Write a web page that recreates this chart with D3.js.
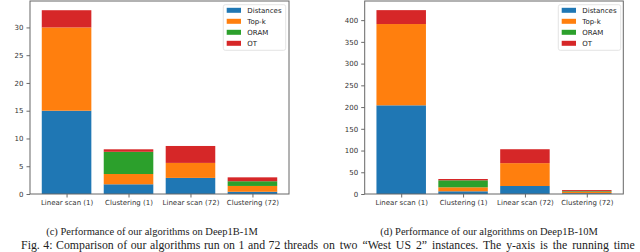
<!DOCTYPE html>
<html><head><meta charset="utf-8">
<script src="https://cdn.jsdelivr.net/npm/d3@7"></script>
<style>
html,body{margin:0;padding:0;background:#fff;overflow:hidden;}
svg{display:block;}
</style></head>
<body>
<svg id="chart" width="640" height="252"></svg>
<script>
const categories = ["Linear scan (1)", "Clustering (1)", "Linear scan (72)", "Clustering (72)"];
const seriesNames = ["Distances", "Top-k", "ORAM", "OT"];
const colors = ["#1f77b4", "#ff7f0e", "#2ca02c", "#d62728"];

// Deep1B-1M
const m1Distances = [15.0, 1.75, 2.9, 0.4];
const m1TopK      = [15.0, 1.85, 2.7, 1.05];
const m1ORAM      = [0.0, 4.0, 0.0, 0.85];
const m1OT        = [3.1, 0.45, 3.05, 0.7];
const m1Ticks = [0, 5, 10, 15, 20, 25, 30];

// Deep1B-10M
const m10Distances = [204, 6.2, 18.4, 2];
const m10TopK      = [187, 9.2, 52.6, 3];
const m10ORAM      = [0, 16.1, 0, 1.5];
const m10OT        = [32, 3.0, 32, 2.5];
const m10Ticks = [0, 50, 100, 150, 200, 250, 300, 350, 400];

const captions = ["(c) Performance of our algorithms on Deep1B-1M", "(d) Performance of our algorithms on Deep1B-10M"];
const bodyLeft = "Fig. 4: Comparison of our algorithms run on 1 and 72 threads";
const bodyRight = "on two \u201cWest US 2\u201d instances. The y-axis is the running time";

const svg = d3.select("#chart");

function drawPanel(cfg) {
  const {left, right, top, bottom, ymax, ticks, series, legendX, caption, captionX} = cfg;
  const g = svg.append("g");
  // matplotlib-like: xlim = [-0.59, 3.59], bars width 0.8
  const xl = d3.scaleLinear().domain([-0.59, 3.59]).range([left, right]);
  const y = d3.scaleLinear().domain([0, ymax]).range([bottom, top]);

  const rows = categories.map((c, i) => {
    const o = {cat: c};
    seriesNames.forEach((s, j) => o[s] = series[j][i]);
    return o;
  });
  const stacked = d3.stack().keys(seriesNames)(rows);
  stacked.forEach((layer, j) => {
    g.append("g").selectAll("rect").data(layer).join("rect")
      .attr("x", (d, i) => xl(i - 0.4))
      .attr("width", (d, i) => xl(i + 0.4) - xl(i - 0.4))
      .attr("y", d => y(d[1]))
      .attr("height", d => Math.max(0, y(d[0]) - y(d[1])))
      .attr("fill", colors[j]);
  });

  // y axis
  const ya = g.append("g").attr("transform", `translate(${left},0)`)
    .call(d3.axisLeft(y).tickValues(ticks).tickSize(3.5).tickPadding(3).tickFormat(d3.format("d")));
  ya.select(".domain").remove();
  ya.selectAll("line").attr("stroke", "#444").attr("stroke-width", 0.8);
  ya.selectAll("text").attr("font-family", "DejaVu Sans").attr("font-size", 7).attr("fill", "#333");

  // x axis
  const xa = g.append("g").attr("transform", `translate(0,${bottom})`)
    .call(d3.axisBottom(xl).tickValues([0, 1, 2, 3]).tickSize(3.5).tickPadding(2.5).tickFormat(i => categories[i]));
  xa.select(".domain").remove();
  xa.selectAll("line").attr("stroke", "#444").attr("stroke-width", 0.8);
  xa.selectAll("text").attr("font-family", "DejaVu Sans").attr("font-size", 7).attr("fill", "#333");

  // frame
  g.append("rect").attr("x", left).attr("y", top).attr("width", right - left).attr("height", bottom - top)
    .attr("fill", "none").attr("stroke", "#666").attr("stroke-width", 1);

  // legend
  const lg = g.append("g");
  lg.append("rect").attr("x", legendX).attr("y", 4.7).attr("width", 62.4).attr("height", 45.6)
    .attr("rx", 2).attr("fill", "#fff").attr("stroke", "#ddd").attr("stroke-width", 0.8);
  seriesNames.forEach((s, j) => {
    const cy = 10.3 + j * 11;
    lg.append("rect").attr("x", legendX + 3.4).attr("y", cy - 2.5).attr("width", 14.3).attr("height", 5).attr("fill", colors[j]);
    lg.append("text").attr("x", legendX + 24).attr("y", cy + 2.5).attr("font-family", "DejaVu Sans").attr("font-size", 7)
      .attr("fill", "#222").text(s);
  });

  // caption
  g.append("text").attr("x", captionX).attr("y", 235).attr("text-anchor", "middle")
    .attr("font-family", "Liberation Serif").attr("font-size", 10.5).attr("fill", "#222").text(caption);
}

drawPanel({left: 30, right: 289, top: 1, bottom: 194, ymax: 34.76, ticks: m1Ticks,
  series: [m1Distances, m1TopK, m1ORAM, m1OT], legendX: 223.3, caption: captions[0], captionX: 152});
drawPanel({left: 364.7, right: 623.3, top: 1, bottom: 194, ymax: 444, ticks: m10Ticks,
  series: [m10Distances, m10TopK, m10ORAM, m10OT], legendX: 558.3, caption: captions[1], captionX: 489});

// figure description line (justified paragraph)
svg.append("text").attr("x", 318).attr("y", 249.3).attr("text-anchor", "end")
  .attr("font-family", "Liberation Serif").attr("font-size", 11.8).attr("word-spacing", 0.6).attr("fill", "#222")
  .text(bodyLeft);
svg.append("text").attr("x", 323).attr("y", 249.3).attr("text-anchor", "start")
  .attr("font-family", "Liberation Serif").attr("font-size", 11.8).attr("word-spacing", 2.0).attr("fill", "#222")
  .text(bodyRight);
</script>
</body></html>
